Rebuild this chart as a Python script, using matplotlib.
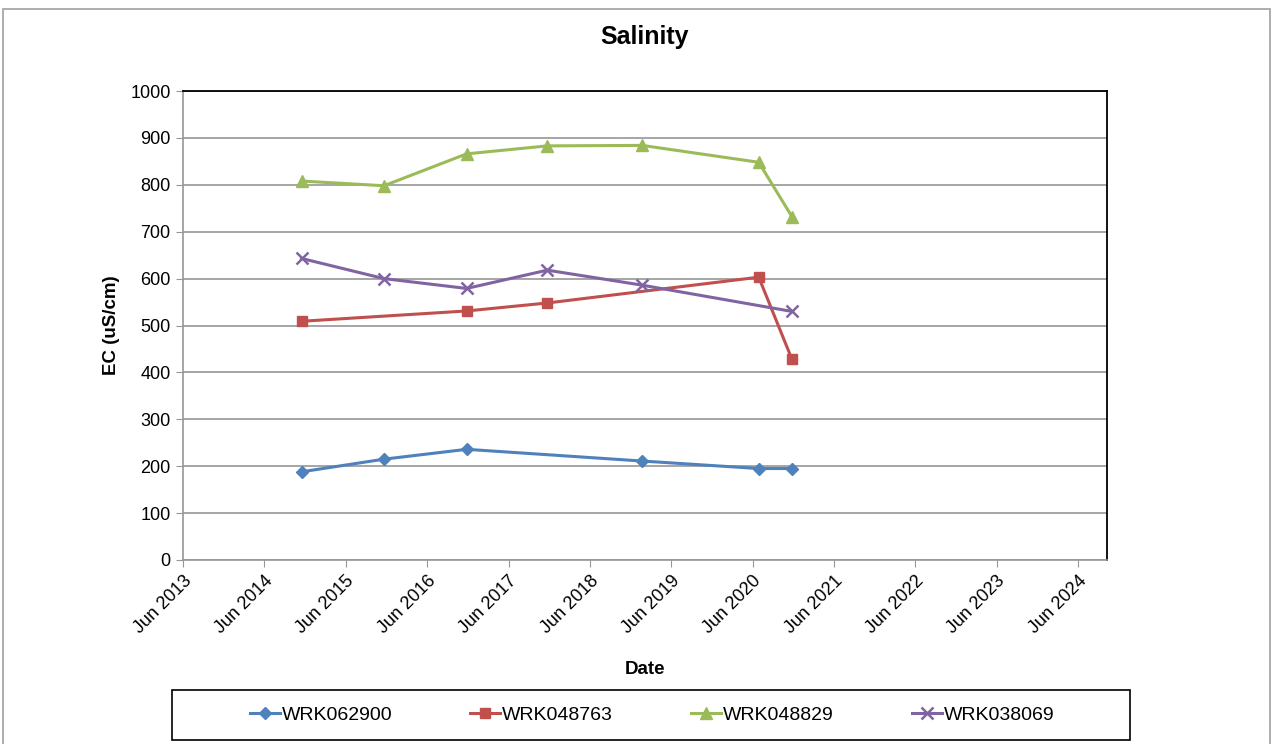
import matplotlib
matplotlib.use("Agg")
import matplotlib.pyplot as plt
import matplotlib.dates as mdates
from matplotlib.patches import Rectangle
import numpy as np

plt.rcParams['font.family'] = ['Liberation Sans', 'DejaVu Sans']

# sample dates
dates_all = ['2014-11-15', '2015-11-20', '2016-11-25', '2017-11-22',
             '2019-01-22', '2020-06-28', '2020-11-24']

# series: which sample dates each bore has, and EC values
names = ['WRK062900', 'WRK048763', 'WRK048829', 'WRK038069']
idx_062900 = [0, 1, 2, 4, 5, 6]
ec_062900 = [188, 215, 236, 211, 195, 195]
idx_048763 = [0, 2, 3, 5, 6]
ec_048763 = [509, 531, 548, 603, 428]
idx_048829 = [0, 1, 2, 3, 4, 5, 6]
ec_048829 = [808, 798, 866, 883, 884, 848, 732]
idx_038069 = [0, 1, 2, 3, 4, 6]
ec_038069 = [643, 600, 579, 618, 586, 530]

colors = ['#4F81BD', '#C0504D', '#9BBB59', '#8064A2']
markers = ['D', 's', '^', 'x']
msizes = [6.5, 7, 8.5, 8.5]

tick_years = list(range(2013, 2025))

fig = plt.figure(figsize=(12.74, 7.44), dpi=100)
W, H = 1274, 744

# outer chart border
fig.patches.append(Rectangle((3 / W, -0.05), 1267 / W, 1.05 - 9 / H,
                             transform=fig.transFigure, fill=False,
                             edgecolor='#a0a0a0', lw=1.2))

ax = fig.add_axes([183 / W, 1 - 560 / H, (1107 - 183) / W, (560 - 91) / H])

d = np.array(dates_all, dtype='datetime64[D]')
series = [(idx_062900, ec_062900), (idx_048763, ec_048763),
          (idx_048829, ec_048829), (idx_038069, ec_038069)]
for (ix, vals), name, c, m, ms in zip(series, names, colors, markers, msizes):
    ax.plot(d[ix], vals, color=c, lw=2.2, marker=m, ms=ms, mew=1.8 if m == 'x' else 1,
            label=name, zorder=3)

ax.set_xlim(np.datetime64('2013-06-01'), np.datetime64('2024-10-08'))
ax.set_ylim(0, 1000)
ax.set_yticks(range(0, 1001, 100))
ax.set_xticks([np.datetime64(f'{y}-06-01') for y in tick_years])
ax.xaxis.set_major_formatter(mdates.DateFormatter('%b %Y'))
plt.setp(ax.get_xticklabels(), rotation=45, ha='right', rotation_mode='anchor')

ax.grid(axis='y', color='#969696', lw=1.2)
ax.set_axisbelow(True)
for s in ['top', 'right']:
    ax.spines[s].set_color('black')
    ax.spines[s].set_linewidth(1.3)
for s in ['left', 'bottom']:
    ax.spines[s].set_color('#969696')
    ax.spines[s].set_linewidth(1.2)
ax.tick_params(axis='both', direction='out', length=5, color='#969696',
               labelsize=13, pad=4)

ax.set_title('Salinity', fontsize=18, fontweight='bold', pad=34)
ax.set_ylabel('EC (uS/cm)', fontsize=13.5, fontweight='bold', labelpad=7)
ax.set_xlabel('Date', fontsize=13.5, fontweight='bold', labelpad=17)

# legend with its own box
fig.patches.append(Rectangle((172 / W, 1 - 740 / H), (1130 - 172) / W, 50 / H,
                             transform=fig.transFigure, fill=False,
                             edgecolor='black', lw=1.2))
fig.legend(loc='center', bbox_to_anchor=(652 / W, 1 - 715 / H), ncol=4,
           frameon=False, fontsize=14, handlelength=1.55, handletextpad=0.1,
           columnspacing=4.0)

fig.savefig('out.png', dpi=100)
